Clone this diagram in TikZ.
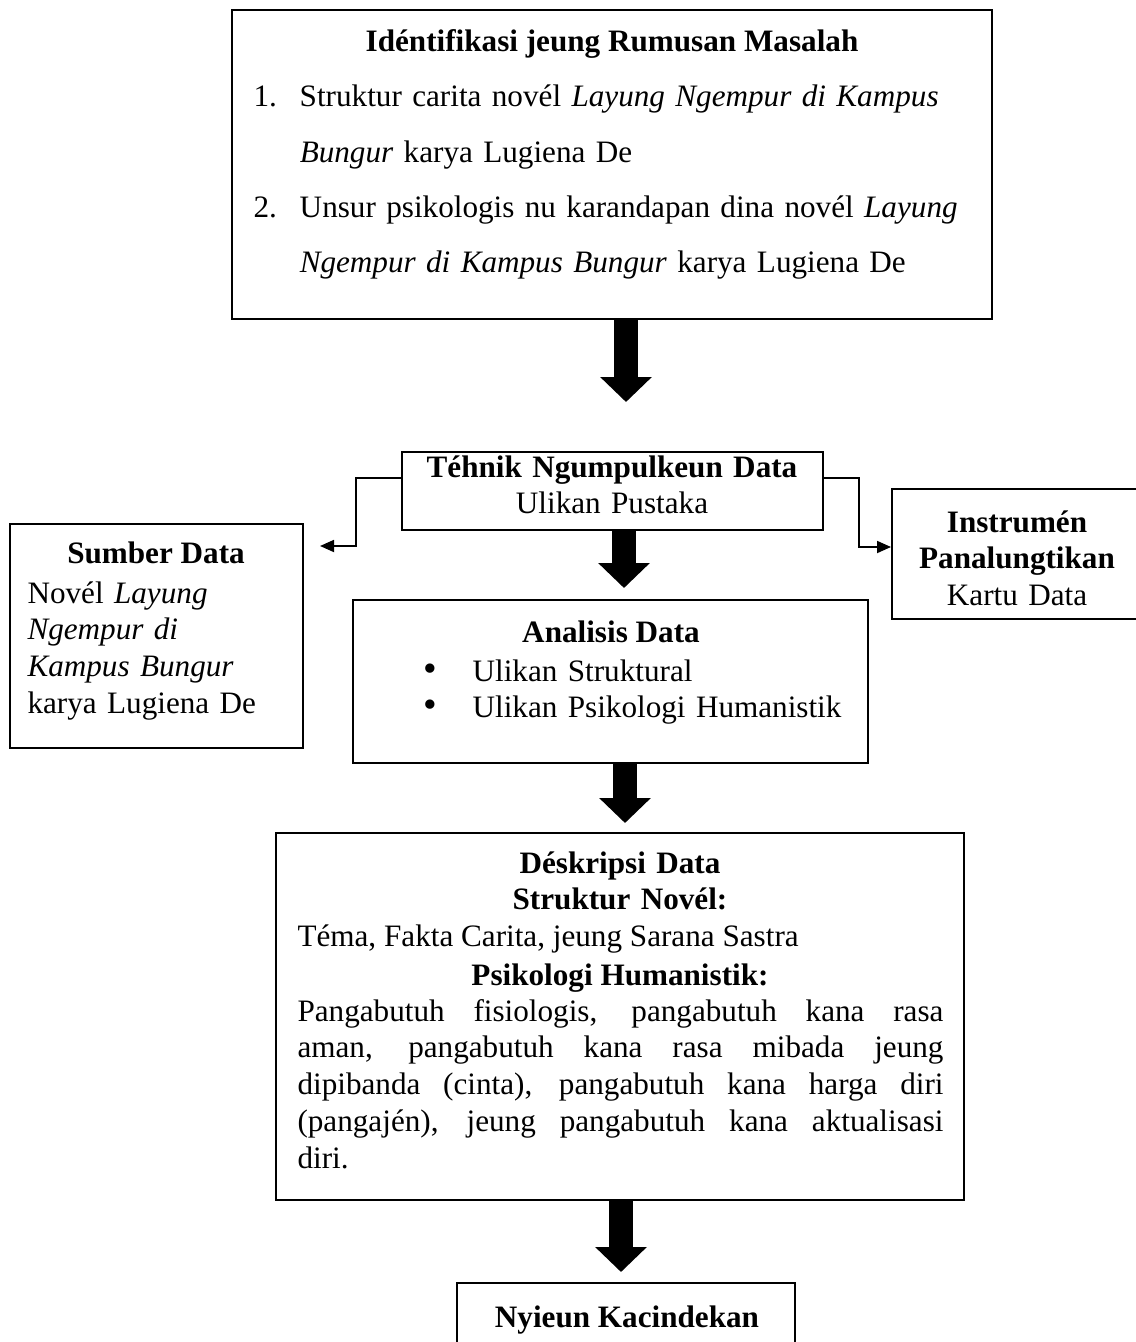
\documentclass[tikz,border=0pt]{standalone}
\usepackage{fontspec}
\setmainfont{Liberation Serif}
\usetikzlibrary{arrows.meta,fit,positioning}

\tikzset{
  box/.style={draw, line width=0.75pt, inner sep=0pt},
  txt/.style={inner sep=0pt, font=\fontsize{12}{14.2}\selectfont},
  ttl/.style={inner sep=0pt, font=\fontsize{12}{14.2}\selectfont\bfseries},
  bigarrow/.style={line width=9.2pt, -{Triangle[width=19.3pt,length=9.6pt]}},
  sidearrow/.style={line width=0.75pt, -{Triangle[width=4.6pt,length=5.4pt]}}
}

\begin{document}
\begin{tikzpicture}[x=0.385pt,y=-0.385pt]
\useasboundingbox (0,0) rectangle (1135,1342);

% boxes
\node[box, fit={(232,10) (992,319)}] (ident) {};
\node[box, fit={(402,452) (823,530)}] (tehnik) {};
\node[box, fit={(10,524) (303,748)}] (sumber) {};
\node[box, fit={(892,489) (1150,619)}] (instr) {};
\node[box, fit={(353,600) (868,763)}] (analisis) {};
\node[box, fit={(276,833) (964,1200)}] (deskripsi) {};
\node[box, fit={(457,1283) (795,1370)}] (kacindekan) {};

% texts
\node[ttl, anchor=base] (identT) at (612,52) {Idéntifikasi jeung Rumusan Masalah};
\node[txt, anchor=base west, text width=277pt, align=left,
  font=\fontsize{12}{21.2}\selectfont] (identL) at (253,107)
  {\makebox[17.8pt][l]{1.}Struktur carita novél \textit{Layung Ngempur di Kampus}\\
   \hspace*{17.8pt}\textit{Bungur} karya Lugiena De\\
   \makebox[17.8pt][l]{2.}Unsur psikologis nu karandapan dina novél \textit{Layung}\\
   \hspace*{17.8pt}\textit{Ngempur di Kampus Bungur} karya Lugiena De};

\node[txt, anchor=base, text width=155pt, align=center] (tehnikT) at (612,477)
  {\textbf{Téhnik Ngumpulkeun Data}\\ Ulikan Pustaka};

\node[ttl, anchor=base] (sumberT) at (156,563) {Sumber Data};
\node[txt, anchor=base west, text width=108pt, align=left] (sumberL) at (27,603)
  {Novél \textit{Layung}\\ \textit{Ngempur di}\\ \textit{Kampus Bungur}\\ karya Lugiena De};

\node[txt, anchor=base, text width=92pt, align=center] (instrT) at (1017,532)
  {\textbf{Instrumén}\\ \textbf{Panalungtikan}\\ Kartu Data};

\node[ttl, anchor=base] (analisisT) at (611,642) {Analisis Data};
\node[txt, anchor=base west, text width=170pt, align=left] (analisisL) at (423,681)
  {\makebox[18.9pt][l]{\scalebox{1.25}{\textbullet}}Ulikan Struktural\\
   \makebox[18.9pt][l]{\scalebox{1.25}{\textbullet}}Ulikan Psikologi Humanistik};

\node[txt, anchor=base, text width=248pt, align=center] (deskripsiT) at (620,873)
  {\textbf{Déskripsi Data}\\ \textbf{Struktur Novél:}};
\node[txt, anchor=base west] (tema) at (297,946) {Téma, Fakta Carita, jeung Sarana Sastra};
\node[ttl, anchor=base] (psikoT) at (620,985) {Psikologi Humanistik:};
\node[txt, anchor=base west, text width=248.7pt, align=justify] (psikoL) at (297,1021)
  {Pangabutuh fisiologis, pangabutuh kana rasa\linebreak
   aman, pangabutuh kana rasa mibada jeung\linebreak
   dipibanda (cinta), pangabutuh kana harga diri\linebreak
   (pangajén), jeung pangabutuh kana aktualisasi\linebreak
   diri.};

\node[ttl, anchor=base] (kacindekanT) at (627,1327) {Nyieun Kacindekan};

% arrows
\coordinate (t1) at (626,402);
\coordinate (t2) at (624,588);
\coordinate (t3) at (625,823);
\coordinate (t4) at (621,1272);
\draw[bigarrow] (ident.south -| t1) -- (t1);
\draw[bigarrow] (tehnik.south -| t2) -- (t2);
\draw[bigarrow] (analisis.south -| t3) -- (t3);
\draw[bigarrow] (deskripsi.south -| t4) -- (t4);

\coordinate (sumberTip) at (320,546);
\draw[sidearrow] (tehnik.west |- 0,478) -- ++(-45,0) |- (sumberTip);
\draw[sidearrow] (tehnik.east |- 0,478) -- ++(35,0) |- (instr.west |- 0,547);
\end{tikzpicture}
\end{document}
